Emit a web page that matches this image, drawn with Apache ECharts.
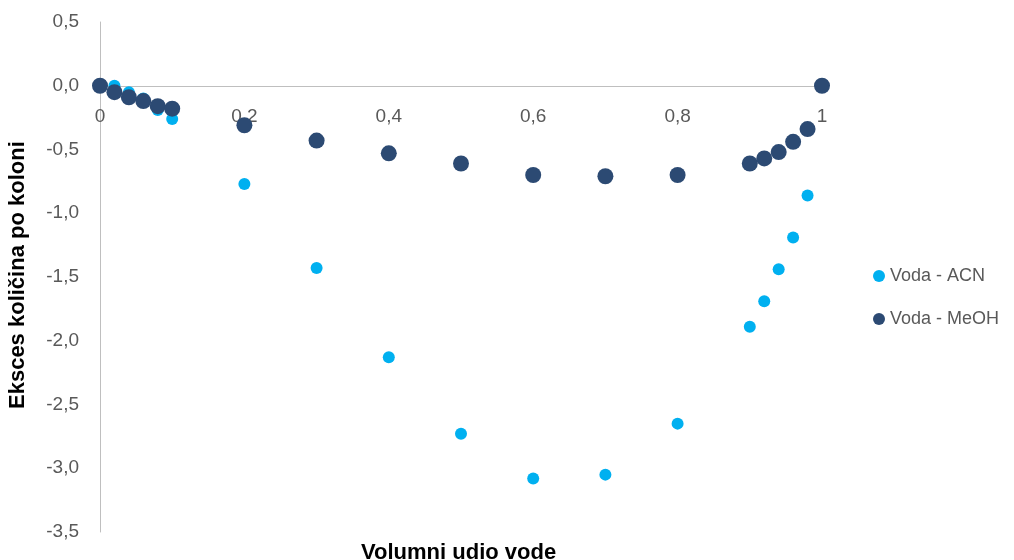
<!DOCTYPE html>
<html><head><meta charset="utf-8">
<script src="https://cdn.jsdelivr.net/npm/echarts@6/dist/echarts.min.js"></script>
<style>html,body{margin:0;padding:0;background:#fff}#c{width:1014px;height:560px}</style>
</head><body><div id="c"></div>
<script>
var xValues = [0, 0.02, 0.04, 0.06, 0.08, 0.1, 0.2, 0.3, 0.4, 0.5, 0.6, 0.7, 0.8, 0.9, 0.92, 0.94, 0.96, 0.98, 1];
var acnValues = [0, 0.0, -0.05, -0.10, -0.19, -0.26, -0.77, -1.43, -2.13, -2.73, -3.08, -3.05, -2.65, -1.89, -1.69, -1.44, -1.19, -0.86, 0];
var meohValues = [0, -0.05, -0.09, -0.12, -0.16, -0.18, -0.31, -0.43, -0.53, -0.61, -0.70, -0.71, -0.70, -0.61, -0.57, -0.52, -0.44, -0.34, 0];
var seriesNames = ['Voda - ACN', 'Voda - MeOH'];
var xTitle = 'Volumni udio vode';
var yTitle = 'Eksces količina po koloni';
var yMin = -3.5, yMax = 0.5;

function pairs(xs, ys){ return xs.map(function(x,i){ return [x, ys[i]]; }); }
var font = 'Liberation Sans, Open Sans, sans-serif';
var gridTop = 22, gridBottom = 28, H = 560;
var gridH = H - gridTop - gridBottom;
var zeroOffset = -Math.round(gridH * (0 - yMin) / (yMax - yMin));
var chart = echarts.init(document.getElementById('c'), null, {renderer:'canvas'});
chart.setOption({
  animation: false,
  grid: {left: 100, right: 192, top: gridTop, bottom: gridBottom, containLabel: false, outerBoundsMode: 'none'},
  xAxis: {
    type: 'value', min: 0, max: 1, interval: 0.2, position: 'bottom', offset: zeroOffset,
    axisLine: {show: true, onZero: false, lineStyle: {color: '#BFBFBF', width: 1}},
    axisTick: {show: false}, splitLine: {show: false},
    axisLabel: {color: '#595959', fontSize: 19, fontFamily: font, margin: 21,
      formatter: function(v){ return v === 0 || v === 1 ? String(v) : String(Math.round(v*10)/10).replace('.', ','); }}
  },
  yAxis: {
    type: 'value', min: yMin, max: yMax, interval: 0.5,
    axisLine: {show: true, lineStyle: {color: '#BFBFBF', width: 1}},
    axisTick: {show: false}, splitLine: {show: false},
    axisLabel: {color: '#595959', fontSize: 19, fontFamily: font, margin: 21,
      formatter: function(v){ return v.toFixed(1).replace('.', ','); }}
  },
  legend: {
    orient: 'vertical', left: 868, top: 262, itemGap: 25,
    icon: 'circle', itemWidth: 12, itemHeight: 12,
    textStyle: {color: '#595959', fontSize: 18, fontFamily: font},
    data: seriesNames
  },
  graphic: [
    {type: 'text', left: 361, top: 542, style: {text: xTitle, font: 'bold 22px ' + font, fill: '#000'}},
    {type: 'text', rotation: Math.PI/2, x: 18, y: 409, style: {text: yTitle, font: 'bold 22px ' + font, fill: '#000', textAlign: 'left', textVerticalAlign: 'middle'}}
  ],
  series: [
    {name: seriesNames[0], type: 'scatter', data: pairs(xValues, acnValues), symbolSize: 12,
      itemStyle: {color: '#00B0F0', opacity: 1}, z: 2},
    {name: seriesNames[1], type: 'scatter', data: pairs(xValues, meohValues), symbolSize: 16,
      itemStyle: {color: '#2C4A73', opacity: 1}, z: 3}
  ]
});
</script></body></html>
